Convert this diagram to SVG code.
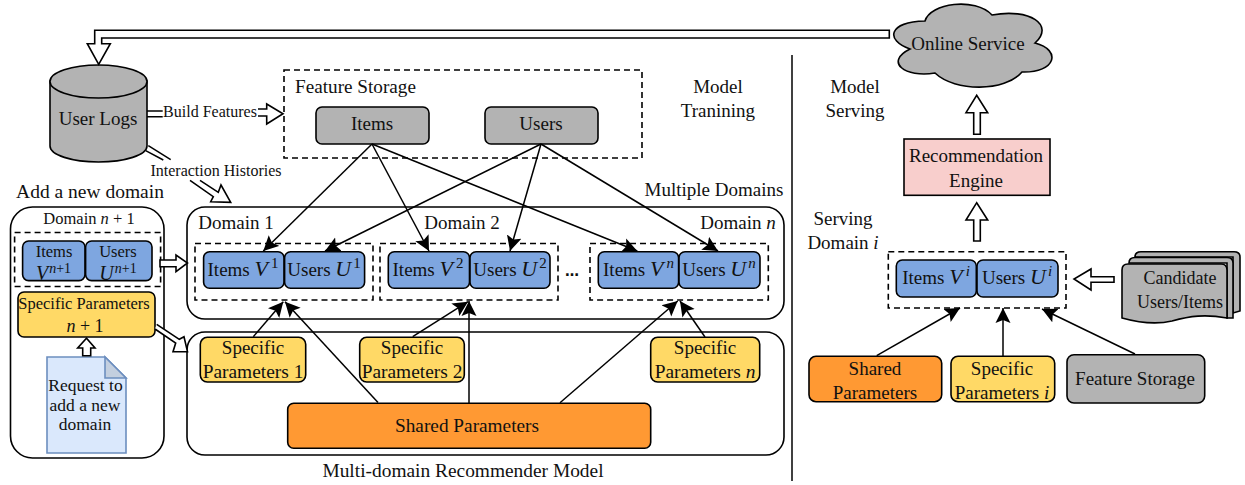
<svg xmlns="http://www.w3.org/2000/svg" width="1245" height="485" viewBox="0 0 1245 485">
<style>
text{font-family:"Liberation Serif","Times New Roman",serif;font-size:19px;fill:#111;text-anchor:middle}
.sm{font-size:16px}
.m{font-style:italic;font-size:22px}
.sup{font-size:15px}
.supi{font-size:15px;font-style:italic}
.box{stroke:#000;stroke-width:1.6}
.blue{fill:#7ea6e0}.yel{fill:#ffd966}.ora{fill:#ff9933}.gry{fill:#b3b3b3}
.outer{fill:#fff;stroke:#000;stroke-width:1.6}
.dash{fill:none;stroke:#000;stroke-width:1.6;stroke-dasharray:6 4}
.hol{fill:#fff;stroke:#000;stroke-width:1.6}
.ln{fill:none;stroke:#000;stroke-width:1.5}
.ar{fill:none;stroke:#000;stroke-width:1.5;marker-end:url(#h)}
</style>
<defs>
<marker id="h" markerUnits="userSpaceOnUse" markerWidth="18" markerHeight="18" refX="15" refY="8" orient="auto"><path d="M0,0.500L15,8L0,15.500L3,8z" fill="#000"/></marker>
</defs>
<rect width="1245" height="485" fill="#fff"/>
<path class="ln" d="M792,55V481"/>

<g id="add-domain">
<text x="90" y="198" style="font-size:19.500px">Add a new domain</text>
<rect class="outer" x="10.500" y="207" width="153.500" height="251" rx="22"/>
<text x="89" y="224" style="font-size:16.500px">Domain <tspan font-style="italic">n</tspan> + 1</text>
<rect class="dash" x="14.600" y="232.500" width="146" height="54"/>
</g>
<g id="items-new">
<rect class="box blue" x="22.600" y="241" width="62.400" height="39.600" rx="6"/>
<text x="54" y="257" style="font-size:16.500px">Items</text>
<text x="53.500" y="280"><tspan font-style="italic" style="font-size:20px">V</tspan><tspan font-style="italic" dy="-7" dx="1" style="font-size:14px">n</tspan><tspan style="font-size:14px">+1</tspan></text>
</g>
<g id="users-new">
<rect class="box blue" x="85.600" y="241" width="66.400" height="39.600" rx="6"/>
<text x="118" y="257" style="font-size:16.500px">Users</text>
<text x="118" y="280"><tspan font-style="italic" style="font-size:20px">U</tspan><tspan font-style="italic" dy="-7" dx="1" style="font-size:14px">n</tspan><tspan style="font-size:14px">+1</tspan></text>
</g>
<g id="specific-new">
<rect class="box yel" x="18" y="292" width="137" height="45" rx="6"/>
<text x="84" y="309" style="font-size:16.500px">Specific Parameters</text>
<text x="85" y="332" style="font-size:18px"><tspan font-style="italic">n</tspan> + 1</text>
</g>
<g id="request-doc">
<path d="M47,357H105L126,378V453H47z" fill="#dae8fc" stroke="#6c8ebf" stroke-width="1.6"/>
<path d="M105,357V378H126z" fill="#c3cfdf" stroke="#6c8ebf" stroke-width="1.6"/>
<text x="85.500" y="391" style="font-size:17.500px">Request to</text>
<text x="85" y="411" style="font-size:17.500px">add a new</text>
<text x="85" y="430" style="font-size:17.500px">domain</text>
</g>

<g id="user-logs">
<path class="box gry" d="M50,81V146C50,155 72,162 98.500,162S147,155 147,146V81z"/>
<ellipse class="box gry" cx="98.500" cy="81.500" rx="48.500" ry="16.500"/>
<text x="98" y="125">User Logs</text>
</g>
<g id="feature-storage">
<rect class="dash" x="284" y="70" width="358" height="88"/>
<text x="355.500" y="93" style="font-size:19.200px">Feature Storage</text>
</g>
<g id="items"><rect class="box gry" x="316" y="107" width="113" height="37" rx="6"/><text x="372" y="130">Items</text></g>
<g id="users"><rect class="box gry" x="485" y="107" width="113" height="37" rx="6"/><text x="541" y="130">Users</text></g>
<g id="training-label"><text x="718" y="93">Model</text><text x="718" y="117">Tranining</text></g>

<g id="multiple-domains">
<text x="714" y="196">Multiple Domains</text>
<rect class="outer" x="187" y="207" width="597" height="112" rx="18"/>
<text x="236" y="229">Domain 1</text>
<text x="462" y="229">Domain 2</text>
<text x="738" y="229">Domain <tspan font-style="italic">n</tspan></text>
</g>
<g id="domain-1">
<rect class="dash" x="195" y="243.500" width="178" height="56.500"/>
<rect class="box blue" x="203.600" y="251.700" width="80.400" height="36.600" rx="6"/>
<rect class="box blue" x="284.600" y="251.700" width="80" height="36.600" rx="6"/>
<text x="243" y="275.500">Items <tspan class="m">V</tspan><tspan class="sup" dy="-8" dx="3">1</tspan></text>
<text x="324" y="275.500">Users <tspan class="m">U</tspan><tspan class="sup" dy="-8" dx="2">1</tspan></text>
</g>
<g id="domain-2">
<rect class="dash" x="380" y="243.500" width="178" height="56.500"/>
<rect class="box blue" x="388.300" y="251.700" width="81.200" height="36.600" rx="6"/>
<rect class="box blue" x="470" y="251.700" width="80" height="36.600" rx="6"/>
<text x="428" y="275.500">Items <tspan class="m">V</tspan><tspan class="sup" dy="-8" dx="3">2</tspan></text>
<text x="510" y="275.500">Users <tspan class="m">U</tspan><tspan class="sup" dy="-8" dx="2">2</tspan></text>
<text x="572" y="276" style="font-family:'DejaVu Sans',sans-serif;font-weight:bold;font-size:14px">…</text>
</g>
<g id="domain-n">
<rect class="dash" x="590" y="243.500" width="178.300" height="56.500"/>
<rect class="box blue" x="598.300" y="251.700" width="80.300" height="36.600" rx="6"/>
<rect class="box blue" x="679" y="251.700" width="81" height="36.600" rx="6"/>
<text x="638.500" y="275.500">Items <tspan class="m">V</tspan><tspan class="supi" dy="-8" dx="3">n</tspan></text>
<text x="719" y="275.500">Users <tspan class="m">U</tspan><tspan class="supi" dy="-8" dx="2">n</tspan></text>
</g>

<g id="recommender-model">
<rect class="outer" x="187" y="332" width="597" height="123" rx="18"/>
<text x="463" y="477" style="font-size:19.400px">Multi-domain Recommender Model</text>
</g>
<g id="specific-1"><rect class="box yel" x="200.300" y="337.300" width="105.400" height="44.700" rx="7"/><text x="253" y="354">Specific</text><text x="253" y="378" style="font-size:19.400px">Parameters 1</text></g>
<g id="specific-2"><rect class="box yel" x="359.700" y="337.300" width="104.600" height="44.700" rx="7"/><text x="412" y="354">Specific</text><text x="412" y="378" style="font-size:19.400px">Parameters 2</text></g>
<g id="specific-n"><rect class="box yel" x="650.700" y="337.300" width="109" height="44.700" rx="7"/><text x="705" y="354">Specific</text><text x="705" y="378" style="font-size:19.400px">Parameters <tspan font-style="italic">n</tspan></text></g>
<g id="shared"><rect class="box ora" x="287.700" y="403.300" width="363" height="45" rx="6"/><text x="467" y="432" style="font-size:19.300px">Shared Parameters</text></g>

<g id="online-service">
<path class="box gry" d="M910,49C885,40 888,22 925,21C930,3 975,-3 992,15C1030,8 1055,25 1035,43C1062,50 1056,73 1022,72C1005,92 955,92 935,73C905,78 884,62 910,49z"/>
<text x="968" y="50">Online Service</text>
</g>
<g id="serving-label"><text x="855" y="93">Model</text><text x="855" y="117">Serving</text></g>
<g id="engine"><rect x="904" y="139" width="146" height="56.300" fill="#f8cecc" stroke="#000" stroke-width="1.6"/><text x="976" y="162">Recommendation</text><text x="976" y="187">Engine</text></g>
<g id="serving-domain">
<text x="843" y="225">Serving</text><text x="843" y="249">Domain <tspan font-style="italic">i</tspan></text>
<rect class="dash" x="888.300" y="251.700" width="177.700" height="56.300"/>
<rect class="box blue" x="896.300" y="260" width="80" height="37" rx="6"/>
<rect class="box blue" x="977" y="260" width="81" height="37" rx="6"/>
<text x="936" y="284">Items <tspan class="m">V</tspan><tspan class="supi" dy="-8" dx="3">i</tspan></text>
<text x="1017" y="284">Users <tspan class="m">U</tspan><tspan class="supi" dy="-8" dx="2">i</tspan></text>
</g>
<g id="candidates">
<path class="box gry" d="M1135,257Q1135,251.700 1141,251.700H1234Q1240,251.700 1240,257V311L1233,313V257z"/>
<path class="box gry" d="M1129,263Q1129,257.500 1135,257.500H1227Q1233,257.500 1233,263V318L1227,318V263z"/>
<path class="box gry" d="M1122,270Q1122,264 1128,264H1221Q1227,264 1227,270V318C1205,314 1190,316 1172,321C1155,325 1140,323 1122,318z"/>
<text x="1180" y="284" style="font-size:18px">Candidate</text><text x="1180" y="308" style="font-size:18px">Users/Items</text>
</g>
<g id="serving-shared"><rect class="box ora" x="809" y="356.300" width="132.700" height="45.400" rx="7"/><text x="875" y="375">Shared</text><text x="875" y="399">Parameters</text></g>
<g id="serving-specific"><rect class="box yel" x="951" y="356.300" width="103.700" height="45.400" rx="7"/><text x="1002" y="375">Specific</text><text x="1002" y="399">Parameters <tspan font-style="italic">i</tspan></text></g>
<g id="serving-feature"><rect class="box gry" x="1067" y="354.700" width="137.700" height="48.300" rx="7"/><text x="1135" y="385">Feature Storage</text></g>

<g id="connectors">
<path class="hol" d="M889.300,30.300H94.700V43.700H87.300L98.700,64.300L110.300,43.700H101.700V38H889.300z"/>
<path class="hol" d="M147,111H162.700M147,116.700H162.700"/>
<path class="hol" d="M258,109H266.700V104L283,113.700L266.700,124V116H258"/>
<text x="210" y="117" style="font-size:16px">Build Features</text>
<path class="ln" d="M148.300,145.700L170.700,159.700M145.700,150.700L163.300,160"/>
<path class="hol" d="M200,180.300L218.300,192.300L221,185L230.700,202.300L210.700,201.700L213.300,196.700L190,180.300"/>
<text x="216" y="176" style="font-size:16px">Interaction Histories</text>
<path class="hol" d="M160,260H176V255L187.500,263L176,271.700V266.700H160z"/>
<path class="hol" d="M156.700,324.300L179.300,339.300L184,336.700L187.500,351.700L173,351.700L175.700,343L155,329"/>
<path class="hol" d="M82.700,355.700V348H77.700L86.500,338.300L95,348H90.700V355.700z"/>
<path class="hol" d="M973.700,134.300V112.700H966L976.700,95.300L987.700,112.700H980.300V134.300z"/>
<path class="hol" d="M973.700,241V220H966L976.700,202.700L987.700,220H980.300V241z"/>
<path class="hol" d="M1114,276.700H1091V269L1074,279L1091,290V282.300H1114z"/>
<path class="ar" d="M372,144L263.300,251"/>
<path class="ar" d="M372,144L429,251"/>
<path class="ar" d="M372,144L637.300,251"/>
<path class="ar" d="M541,144L325,251"/>
<path class="ar" d="M541,144L510,251"/>
<path class="ar" d="M541,144L718,251"/>
<path class="ar" d="M253.300,336.700L283.300,301.700"/>
<path class="ar" d="M378,402.500L285,301.700"/>
<path class="ar" d="M412.700,336.700L468,301.700"/>
<path class="ar" d="M469,403L469,301"/>
<path class="ar" d="M560,402.700L677.700,301"/>
<path class="ar" d="M705,337L680,301"/>
<path class="ar" d="M876.700,355.700L960,308"/>
<path class="ar" d="M1003,356L1003,308"/>
<path class="ar" d="M1135,354L1042,309"/>
</g>
</svg>
